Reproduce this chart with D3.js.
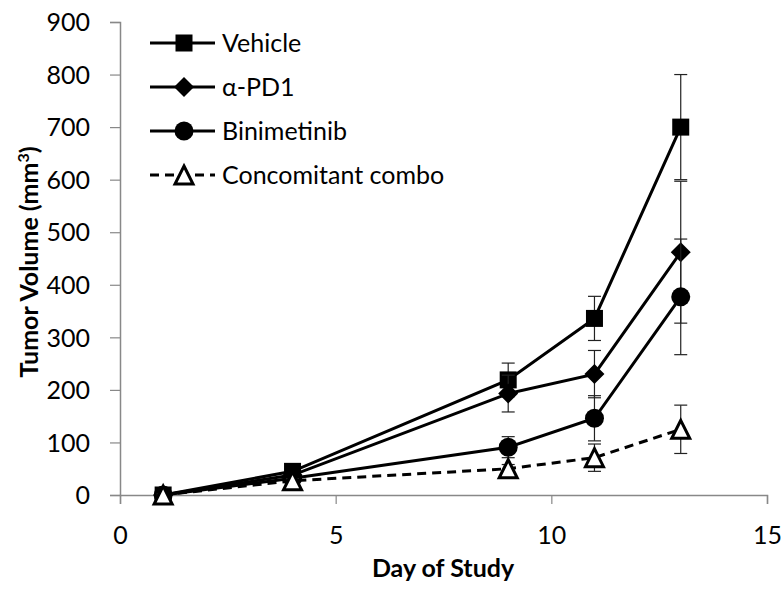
<!DOCTYPE html>
<html>
<head>
<meta charset="utf-8">
<title>Tumor Volume</title>
<script src="https://cdn.jsdelivr.net/npm/d3@7"></script>
<style>
	body { margin: 0; background: #fff; }
	text { font-family: Lato, "Open Sans", sans-serif; fill: #000; }
	.tick text { font-size: 25px; }
	.axisTitle { font-weight: bold; font-size: 25px; }
	.legendText { font-size: 25px; }
</style>
</head>
<body>
<script>
	// data
	var days = [1, 4, 9, 11, 13];
	var seriesNames = ['Vehicle', '\u03b1-PD1', 'Binimetinib', 'Concomitant combo'];
	var vehicle = [0, 45, 219, 336, 700];
	var vehicleErr = [3, 6, 32, 42, 100];
	var pd1 = [0, 38, 193, 230, 462];
	var pd1Err = [2, 5, 35, 45, 135];
	var bini = [0, 32, 91, 146, 377];
	var biniErr = [2, 4, 20, 43, 110];
	var combo = [0, 27, 50, 71, 125];
	var comboErr = [2, 4, 8, 26, 46];
	var xTicks = [0, 5, 10, 15];
	var yTicks = [0, 100, 200, 300, 400, 500, 600, 700, 800, 900];

	var w = 781, h = 591;
	var svg = d3.select('body').append('svg').attr('width', w).attr('height', h);

	var x = d3.scaleLinear().domain([0, 15]).range([120, 767]);
	var y = d3.scaleLinear().domain([0, 900]).range([495, 22]);

	// axes
	var xAxis = d3.axisBottom(x).tickValues(xTicks).tickSize(9).tickPadding(22);
	var yAxis = d3.axisLeft(y).tickValues(yTicks).tickSize(10).tickPadding(20);

	var gx = svg.append('g').attr('transform', 'translate(0,' + y(0) + ')').call(xAxis);
	var gy = svg.append('g').attr('transform', 'translate(' + x(0) + ',0)').call(yAxis);
	[gx, gy].forEach(function(g) {
		g.select('.domain').attr('stroke', '#888').attr('stroke-width', 1.5);
		g.selectAll('.tick line').attr('stroke', '#888').attr('stroke-width', 1.2);
	});
	gy.selectAll('.tick text').attr('dy', '0.35em');

	// axis titles
	svg.append('text').attr('class', 'axisTitle')
		.attr('x', 443).attr('y', 577).attr('text-anchor', 'middle')
		.text('Day of Study');
	var yt = svg.append('text').attr('class', 'axisTitle')
		.attr('transform', 'translate(38,' + 262 + ') rotate(-90)')
		.attr('text-anchor', 'middle');
	yt.append('tspan').text('Tumor Volume (mm');
	yt.append('tspan').attr('dy', -9).attr('font-size', 16).text('3');
	yt.append('tspan').attr('dy', 9).text(')');

	// markers
	function marker(g, kind) {
		if (kind == 0) {
			g.append('rect').attr('x', -8.5).attr('y', -8.5).attr('width', 17).attr('height', 17).attr('fill', '#000');
		} else if (kind == 1) {
			g.append('path').attr('d', 'M0,-10L10,0L0,10L-10,0Z').attr('fill', '#000');
		} else if (kind == 2) {
			g.append('circle').attr('r', 9.5).attr('fill', '#000');
		} else {
			g.append('path').attr('d', 'M0,-9L9,9L-9,9Z').attr('fill', '#fff')
				.attr('stroke', '#000').attr('stroke-width', 3).attr('stroke-linejoin', 'miter');
		}
	}

	var allSeries = [
		{vals: vehicle, err: vehicleErr, dash: null},
		{vals: pd1, err: pd1Err, dash: null},
		{vals: bini, err: biniErr, dash: null},
		{vals: combo, err: comboErr, dash: '9,6'}
	];

	var line = d3.line()
		.x(function(d, i) { return x(days[i]); })
		.y(function(d) { return y(d); });

	allSeries.forEach(function(s, k) {
		var g = svg.append('g');
		// error bars
		days.forEach(function(d, i) {
			var cx = x(d);
			var top = y(s.vals[i] + s.err[i]), bot = y(s.vals[i] - s.err[i]);
			var eb = g.append('g').attr('stroke', '#222').attr('stroke-width', 1.2);
			eb.append('line').attr('x1', cx).attr('x2', cx).attr('y1', top).attr('y2', bot);
			eb.append('line').attr('x1', cx - 6.5).attr('x2', cx + 6.5).attr('y1', top).attr('y2', top);
			eb.append('line').attr('x1', cx - 6.5).attr('x2', cx + 6.5).attr('y1', bot).attr('y2', bot);
		});
		g.append('path').datum(s.vals).attr('d', line)
			.attr('fill', 'none').attr('stroke', '#000').attr('stroke-width', 3)
			.attr('stroke-dasharray', s.dash);
		s.vals.forEach(function(v, i) {
			marker(g.append('g').attr('transform', 'translate(' + x(days[i]) + ',' + y(v) + ')'), k);
		});
	});

	// legend
	var legend = svg.append('g');
	var legendY = [43, 87, 131, 175];
	seriesNames.forEach(function(name, k) {
		var ly = legendY[k];
		legend.append('line').attr('x1', 150).attr('x2', 215).attr('y1', ly).attr('y2', ly)
			.attr('stroke', '#000').attr('stroke-width', 3)
			.attr('stroke-dasharray', allSeries[k].dash);
		marker(legend.append('g').attr('transform', 'translate(184,' + ly + ')'), k);
		legend.append('text').attr('class', 'legendText')
			.attr('x', 222).attr('y', ly).attr('dy', '0.35em').text(name);
	});
</script>
</body>
</html>
